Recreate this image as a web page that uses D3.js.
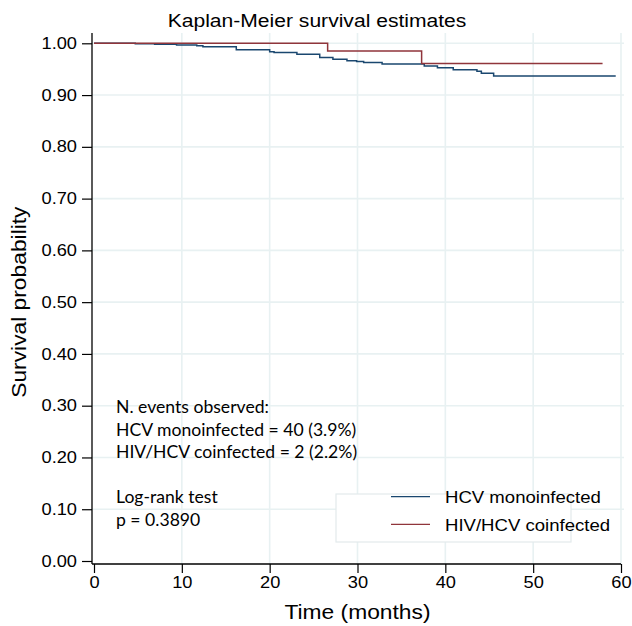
<!DOCTYPE html>
<html>
<head>
<meta charset="utf-8">
<script src="https://cdn.jsdelivr.net/npm/d3@7"></script>
<style>
  body { margin: 0; background: #fff; }
  svg text { font-family: "Liberation Sans", Arial, sans-serif; fill: #000; }
  .note { font-family: Lato, "Open Sans", sans-serif; }
</style>
</head>
<body>
<div id="chart"></div>
<script>
// Kaplan-Meier step data
const hcvTime = [0, 4.7, 6.9, 9.4, 11.7, 12.4, 16.2, 20.0, 20.5, 23.1, 25.7, 27.2, 28.8, 29.9, 30.7, 32.8, 37.6, 39.1, 40.9, 43.6, 44.1, 45.5, 59.4];
const hcvSurv = [1, 0.999, 0.998, 0.9967, 0.9954, 0.9934, 0.9876, 0.9838, 0.9822, 0.9788, 0.9726, 0.9691, 0.9664, 0.9648, 0.9629, 0.960, 0.9562, 0.9529, 0.949, 0.9459, 0.942, 0.937, 0.937];
const hivTime = [0, 26.6, 37.3, 57.9];
const hivSurv = [1, 0.985, 0.961, 0.961];

const seriesNames = ["HCV monoinfected", "HIV/HCV coinfected"];
const seriesColors = ["#1a476f", "#90353b"];
const xTicks = [0, 10, 20, 30, 40, 50, 60];
const yTicks = [0, 0.1, 0.2, 0.3, 0.4, 0.5, 0.6, 0.7, 0.8, 0.9, 1.0];
const noteLines = ["N. events observed:", "HCV monoinfected = 40 (3.9%)", "HIV/HCV coinfected = 2 (2.2%)", "", "Log-rank test", "p = 0.3890"];

const W = 632, H = 626;
const stretch = 1.14; // Stata's glyphs run wider than Arial's

const svg = d3.select("#chart").append("svg")
    .attr("width", W)
    .attr("height", H);

const x = d3.scaleLinear().domain([0, 60]).range([94, 621]);
const y = d3.scaleLinear().domain([0, 1]).range([561, 43.3]);

const axisX = 92, axisY = 564, plotTop = 33;

// grid
const grid = svg.append("g").attr("stroke", "#e8f1f2").attr("stroke-width", 1.6);
grid.selectAll(".gx")
    .data(xTicks.slice(1))
    .enter().append("line")
    .attr("x1", d => x(d)).attr("x2", d => x(d))
    .attr("y1", plotTop).attr("y2", axisY);
grid.selectAll(".gy")
    .data(yTicks.slice(1))
    .enter().append("line")
    .attr("x1", axisX).attr("x2", 624)
    .attr("y1", d => y(d)).attr("y2", d => y(d));

// survival curves
const line = d3.line()
    .x(d => x(d[0]))
    .y(d => y(d[1]))
    .curve(d3.curveStepAfter);

const curves = [d3.zip(hcvTime, hcvSurv), d3.zip(hivTime, hivSurv)];
svg.selectAll(".km")
    .data(curves)
    .enter().append("path")
    .attr("class", "km")
    .attr("fill", "none")
    .attr("stroke", (d, i) => seriesColors[i])
    .attr("stroke-width", 1.5)
    .attr("d", line);

// axes
const gx = svg.append("g")
    .attr("transform", `translate(0,${axisY})`)
    .call(d3.axisBottom(x).tickValues(xTicks).tickSize(9).tickSizeOuter(0));
gx.select(".domain").remove();
gx.selectAll(".tick line").attr("stroke", "#000").attr("stroke-width", 1.2);
gx.selectAll(".tick text")
    .attr("y", 13)
    .attr("transform", `scale(${stretch},1)`)
    .style("font-size", "16px");

const gy = svg.append("g")
    .attr("transform", `translate(${axisX},0)`)
    .call(d3.axisLeft(y).tickValues(yTicks).tickFormat(d3.format(".2f")).tickSize(10).tickSizeOuter(0));
gy.select(".domain").remove();
gy.selectAll(".tick line").attr("stroke", "#000").attr("stroke-width", 1.2);
gy.selectAll(".tick text")
    .attr("x", -15 / stretch)
    .attr("transform", `scale(${stretch},1)`)
    .style("font-size", "16px");

svg.append("line")
    .attr("x1", axisX).attr("x2", x(60))
    .attr("y1", axisY).attr("y2", axisY)
    .attr("stroke", "#000").attr("stroke-width", 1.3);
svg.append("line")
    .attr("x1", axisX).attr("x2", axisX)
    .attr("y1", plotTop).attr("y2", axisY)
    .attr("stroke", "#000").attr("stroke-width", 1.3);

// titles
svg.append("text")
    .attr("transform", `translate(${W / 2 + 1},27) scale(${stretch},1)`)
    .attr("text-anchor", "middle")
    .style("font-size", "18.5px")
    .text("Kaplan-Meier survival estimates");

svg.append("text")
    .attr("transform", `translate(${(x(0) + x(60)) / 2},619) scale(${stretch},1)`)
    .attr("text-anchor", "middle")
    .style("font-size", "20px")
    .text("Time (months)");

svg.append("text")
    .attr("transform", `translate(26,${(y(0) + y(1)) / 2}) rotate(-90) scale(${stretch},1)`)
    .attr("text-anchor", "middle")
    .style("font-size", "20px")
    .text("Survival probability");

// annotation
svg.selectAll(".note")
    .data(noteLines)
    .enter().append("text")
    .attr("class", "note")
    .attr("transform", (d, i) => `translate(116,${413.3 + i * 22.5}) scale(1.035,1)`)
    .style("font-size", "17px")
    .text(d => d);

// legend
const legend = svg.append("g");
legend.append("rect")
    .attr("x", 336).attr("y", 494)
    .attr("width", 235).attr("height", 48)
    .attr("fill", "#fff")
    .attr("stroke", "#e3eaec")
    .attr("stroke-width", 1.2);

const items = legend.selectAll(".item")
    .data(seriesNames)
    .enter().append("g")
    .attr("transform", (d, i) => `translate(0,${496.7 + i * 27.6})`);
items.append("line")
    .attr("x1", 391).attr("x2", 430)
    .attr("stroke", (d, i) => seriesColors[i])
    .attr("stroke-width", 1.3);
items.append("text")
    .attr("transform", `translate(445,6.5) scale(${stretch},1)`)
    .style("font-size", "16.3px")
    .text(d => d);
</script>
</body>
</html>
